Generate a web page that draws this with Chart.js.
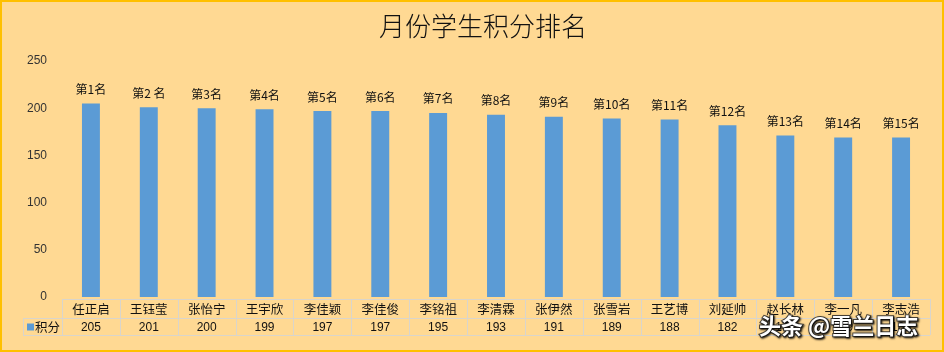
<!DOCTYPE html>
<html>
<head>
<meta charset="utf-8">
<script src="https://cdn.jsdelivr.net/npm/chart.js@4"></script>
<style>
  body { margin: 0; background: #fff; }
  #wrap { width: 944px; height: 352px; }
</style>
</head>
<body>
<div id="wrap"><canvas id="myChart" width="944" height="352"></canvas></div>
<script>
const names = ['任正启', '王钰莹', '张怡宁', '王宇欣', '李佳颖', '李佳俊', '李铭祖', '李清霖',
    '张伊然', '张雪岩', '王艺博', '刘延帅', '赵长林', '李一凡', '李志浩'];
const scores = [205, 201, 200, 199, 197, 197, 195, 193, 191, 189, 188, 182, 171, 169, 169];
const rankLabels = ['第1名', '第2 名', '第3名', '第4名', '第5名', '第6名', '第7名', '第8名',
    '第9名', '第10名', '第11名', '第12名', '第13名', '第14名', '第15名'];
const seriesName = '积分';
const titleText = '月份学生积分排名';

const cjk = '"Noto Sans CJK SC", "Noto Sans", sans-serif';
const barColor = '#5B9BD5';

// background, frame and title
const bgPlugin = {
    id: 'bg',
    beforeDraw(chart) {
        const c = chart.ctx;
        c.save();
        c.fillStyle = '#FFD993';
        c.fillRect(0, 0, chart.width, chart.height);
        c.strokeStyle = '#FFC000';
        c.lineWidth = 2;
        c.strokeRect(1, 1, chart.width - 2, chart.height - 2);
        c.fillStyle = '#111';
        c.font = '300 26px ' + cjk;
        c.textAlign = 'center';
        c.textBaseline = 'middle';
        c.fillText(titleText, 483, 26);
        c.restore();
    },
};

// rank labels above bars
const rankPlugin = {
    id: 'ranks',
    afterDatasetsDraw(chart) {
        const c = chart.ctx;
        const meta = chart.getDatasetMeta(0);
        c.save();
        c.font = '12px ' + cjk;
        c.fillStyle = '#111';
        c.textAlign = 'center';
        c.textBaseline = 'middle';
        meta.data.forEach((bar, i) => {
            c.fillText(rankLabels[i], bar.x, bar.y - 14);
        });
        c.restore();
    },
};

// data table under the x axis
const tablePlugin = {
    id: 'dataTable',
    afterDraw(chart) {
        const c = chart.ctx;
        const x = chart.scales.x;
        const n = names.length;
        const colW = (x.right - x.left) / n;
        const top = chart.chartArea.bottom + 2;
        const mid = top + 19;
        const bot = mid + 17;
        const legendLeft = 23;
        c.save();
        c.strokeStyle = '#D9D5CC';
        c.lineWidth = 1;
        c.beginPath();
        c.moveTo(x.left, top + 0.5); c.lineTo(x.right, top + 0.5);
        c.moveTo(legendLeft, mid + 0.5); c.lineTo(x.right, mid + 0.5);
        c.moveTo(legendLeft, bot + 0.5); c.lineTo(x.right, bot + 0.5);
        c.moveTo(legendLeft + 0.5, mid); c.lineTo(legendLeft + 0.5, bot);
        for (let i = 0; i <= n; i++) {
            const xx = Math.round(x.left + i * colW) + 0.5;
            c.moveTo(xx, top); c.lineTo(xx, bot);
        }
        c.stroke();

        c.textAlign = 'center';
        c.textBaseline = 'middle';
        c.fillStyle = '#111';
        names.forEach((name, i) => {
            const cx = x.getPixelForValue(i);
            c.font = '12.5px ' + cjk;
            c.fillText(name, cx, (top + mid) / 2 + 1);
            c.font = '12px "Liberation Sans", sans-serif';
            c.fillText(String(scores[i]), cx, (mid + bot) / 2 + 1);
        });

        // legend key
        c.fillStyle = barColor;
        c.fillRect(27, (mid + bot) / 2 - 3, 7, 7);
        c.fillStyle = '#111';
        c.textAlign = 'left';
        c.font = '12.5px ' + cjk;
        c.fillText(seriesName, 35, (mid + bot) / 2 + 1);

        // watermark
        c.font = 'bold 22px ' + cjk;
        c.textAlign = 'left';
        c.textBaseline = 'middle';
        c.shadowColor = 'rgba(0,0,0,0.9)';
        c.shadowOffsetX = 1;
        c.shadowOffsetY = 1;
        c.shadowBlur = 2;
        c.lineWidth = 2;
        c.strokeStyle = 'rgba(40,40,40,0.8)';
        c.strokeText('头条 @雪兰日志', 759, 326);
        c.fillStyle = '#fff';
        c.fillText('头条 @雪兰日志', 759, 326);
        c.restore();
    },
};

new Chart(document.getElementById('myChart'), {
    type: 'bar',
    data: {
        labels: names,
        datasets: [
            {
                label: seriesName,
                data: scores,
                backgroundColor: barColor,
                borderWidth: 0,
                categoryPercentage: 1,
                barPercentage: 0.31,
            },
        ],
    },
    options: {
        responsive: false,
        animation: false,
        layout: {
            padding: { left: 0, right: 14, top: 61, bottom: 55 },
        },
        plugins: {
            legend: { display: false },
            tooltip: { enabled: false },
            title: { display: false },
        },
        scales: {
            x: {
                display: false,
            },
            y: {
                min: 0,
                max: 250,
                grid: { display: false },
                border: { display: false },
                afterFit(scale) { scale.width = 62; },
                ticks: {
                    stepSize: 50,
                    padding: 7,
                    color: '#333',
                    font: { family: '"Liberation Sans", sans-serif', size: 12 },
                },
            },
        },
    },
    plugins: [bgPlugin, rankPlugin, tablePlugin],
});
</script>
</body>
</html>
